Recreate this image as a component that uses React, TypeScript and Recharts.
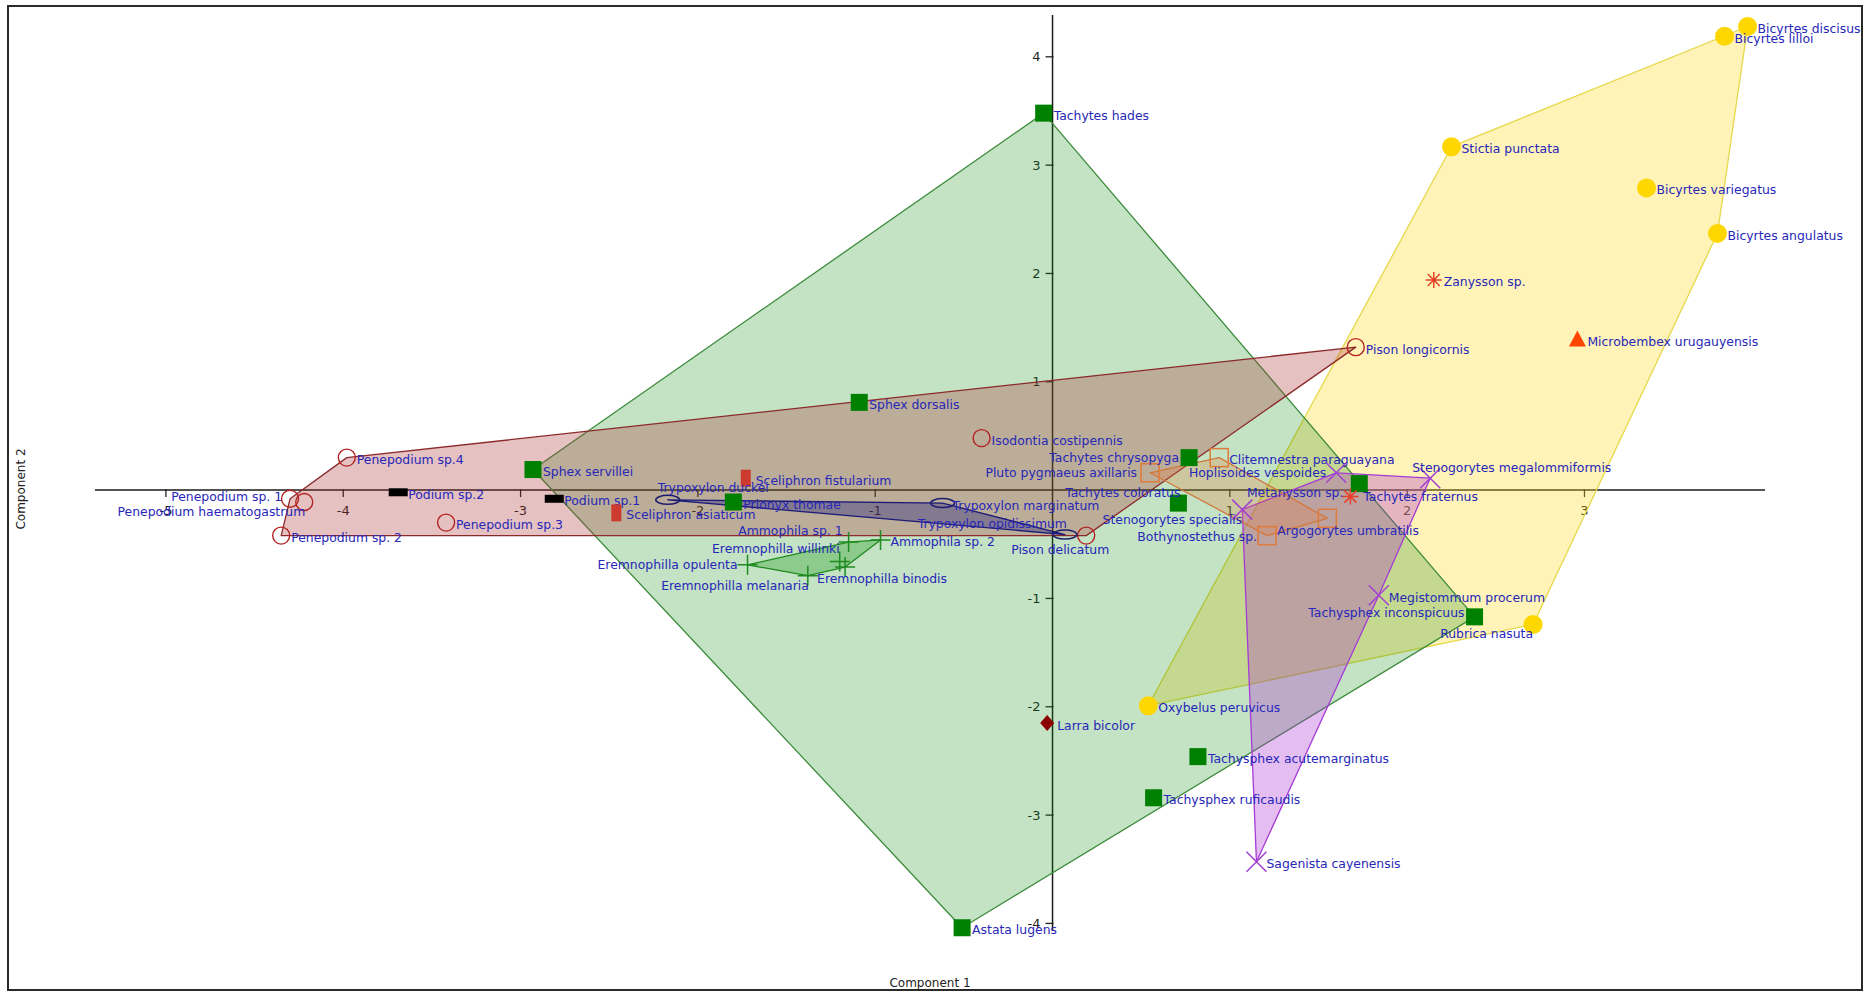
import { ScatterChart, Scatter, XAxis, YAxis } from "recharts"

type Pt = { name: string; x: number; y: number }

// PCA scores (Component 1, Component 2), one list per marker group
const ringTaxa: Pt[] = [
  { name: "Penepodium sp.4", x: -3.98, y: 0.3 },
  { name: "Penepodium sp. 1", x: -4.3, y: -0.08 },
  { name: "Penepodium haematogastrum", x: -4.22, y: -0.11 },
  { name: "Penepodium sp. 2", x: -4.35, y: -0.42 },
  { name: "Penepodium sp.3", x: -3.42, y: -0.3 },
  { name: "Isodontia costipennis", x: -0.4, y: 0.48 },
  { name: "Pison longicornis", x: 1.71, y: 1.32 },
  { name: "Pison delicatum", x: 0.19, y: -0.42 },
]

const squareTaxa: Pt[] = [
  { name: "Tachytes hades", x: -0.05, y: 3.48 },
  { name: "Sphex dorsalis", x: -1.09, y: 0.81 },
  { name: "Sphex servillei", x: -2.93, y: 0.19 },
  { name: "Prionyx thomae", x: -1.8, y: -0.11 },
  { name: "Tachytes chrysopyga", x: 0.77, y: 0.3 },
  { name: "Tachytes coloratus", x: 0.71, y: -0.12 },
  { name: "Tachytes fraternus", x: 1.73, y: 0.06 },
  { name: "Tachysphex inconspicuus", x: 2.38, y: -1.17 },
  { name: "Tachysphex acutemarginatus", x: 0.82, y: -2.46 },
  { name: "Tachysphex ruficaudis", x: 0.57, y: -2.84 },
  { name: "Astata lugens", x: -0.51, y: -4.04 },
]

const dotTaxa: Pt[] = [
  { name: "Bicyrtes discisus", x: 3.92, y: 4.28 },
  { name: "Bicyrtes lilloi", x: 3.79, y: 4.19 },
  { name: "Stictia punctata", x: 2.25, y: 3.17 },
  { name: "Bicyrtes variegatus", x: 3.35, y: 2.79 },
  { name: "Bicyrtes angulatus", x: 3.75, y: 2.37 },
  { name: "Rubrica nasuta", x: 2.71, y: -1.24 },
  { name: "Oxybelus peruvicus", x: 0.54, y: -1.99 },
]

const starTaxa: Pt[] = [
  { name: "Zanysson sp.", x: 2.15, y: 1.94 },
  { name: "Metanysson sp.", x: 1.68, y: -0.06 },
]

const triangleTaxa: Pt[] = [{ name: "Microbembex urugauyensis", x: 2.96, y: 1.39 }]

const diamondTaxa: Pt[] = [{ name: "Larra bicolor", x: -0.03, y: -2.15 }]

const barTaxa: Pt[] = [
  { name: "Podium sp.2", x: -3.69, y: -0.02 },
  { name: "Podium sp.1", x: -2.81, y: -0.08 },
]

const postTaxa: Pt[] = [
  { name: "Sceliphron fistularium", x: -1.73, y: 0.11 },
  { name: "Sceliphron asiaticum", x: -2.46, y: -0.21 },
]

const ellipseTaxa: Pt[] = [
  { name: "Trypoxylon duckei", x: -2.17, y: -0.09 },
  { name: "Trypoxylon marginatum", x: -0.62, y: -0.12 },
  { name: "Trypoxylon opidissimum", x: 0.07, y: -0.41 },
]

const plusTaxa: Pt[] = [
  { name: "Ammophila sp. 1", x: -1.15, y: -0.48 },
  { name: "Ammophila sp. 2", x: -0.97, y: -0.46 },
  { name: "Eremnophilla willinki", x: -1.2, y: -0.66 },
  { name: "Eremnophilla binodis", x: -1.17, y: -0.71 },
  { name: "Eremnophilla opulenta", x: -1.72, y: -0.69 },
  { name: "Eremnophilla melanaria", x: -1.38, y: -0.79 },
]

const crossTaxa: Pt[] = [
  { name: "Stenogorytes specialis", x: 1.07, y: -0.18 },
  { name: "Hoplisoides vespoides", x: 1.6, y: 0.16 },
  { name: "Stenogorytes megalommiformis", x: 2.13, y: 0.11 },
  { name: "Megistommum procerum", x: 1.84, y: -0.97 },
  { name: "Sagenista cayenensis", x: 1.15, y: -3.43 },
]

const boxTaxa: Pt[] = [
  { name: "Pluto pygmaeus axillaris", x: 0.55, y: 0.16 },
  { name: "Clitemnestra paraguayana", x: 0.94, y: 0.3 },
  { name: "Argogorytes umbratilis", x: 1.55, y: -0.26 },
  { name: "Bothynostethus sp.", x: 1.21, y: -0.42 },
]

const xTicks = [-5, -4, -3, -2, -1, 1, 2, 3]
const yTicks = [-4, -3, -2, -1, 1, 2, 3, 4]
const xRange = [-5.4, 4.018]
const yRange = [-4.07, 4.386]

// label placement tweaks [dx, dy, anchor]; anything not listed sits to the right
const labelSpot: Record<string, [number, number, "start" | "end"]> = {
  "Penepodium sp. 1": [-8, -2, "end"],
  "Penepodium haematogastrum": [1, 9, "end"],
  "Tachytes chrysopyga": [-10, 0, "end"],
  "Tachytes coloratus": [2, -11, "end"],
  "Tachytes fraternus": [4, 13, "start"],
  "Tachysphex inconspicuus": [-10, -4, "end"],
  "Rubrica nasuta": [0, 9, "end"],
  "Metanysson sp.": [-7, -4, "end"],
  "Hoplisoides vespoides": [-10, 0, "end"],
  "Stenogorytes specialis": [0, 10, "end"],
  "Stenogorytes megalommiformis": [-18, -11, "start"],
  "Bothynostethus sp.": [-10, 1, "end"],
  "Argogorytes umbratilis": [-50, 12, "start"],
  "Pluto pygmaeus axillaris": [-13, 0, "end"],
  "Trypoxylon duckei": [-10, -12, "start"],
  "Trypoxylon opidissimum": [2, -11, "end"],
  "Ammophila sp. 1": [-6, -12, "end"],
  "Eremnophilla willinki": [0, -13, "end"],
  "Eremnophilla binodis": [-28, 11, "start"],
  "Eremnophilla opulenta": [-10, 0, "end"],
  "Eremnophilla melanaria": [1, 10, "end"],
  "Pison delicatum": [-75, 14, "start"],
}

const FONT = "'DejaVu Sans', Tahoma, sans-serif"

// Andrew's monotone chain
function convexHull(pts: Pt[]): Pt[] {
  const s = [...pts].sort((a, b) => a.x - b.x || a.y - b.y)
  const cross = (o: Pt, a: Pt, b: Pt) => (a.x - o.x) * (b.y - o.y) - (a.y - o.y) * (b.x - o.x)
  const lower: Pt[] = []
  for (const p of s) {
    while (lower.length >= 2 && cross(lower[lower.length - 2], lower[lower.length - 1], p) <= 0) lower.pop()
    lower.push(p)
  }
  const upper: Pt[] = []
  for (const p of s.slice().reverse()) {
    while (upper.length >= 2 && cross(upper[upper.length - 2], upper[upper.length - 1], p) <= 0) upper.pop()
    upper.push(p)
  }
  lower.pop()
  upper.pop()
  return lower.concat(upper)
}

const pathLine = (stroke: string, fill: string, width: number, closed: boolean) => (p: any) => {
  const pts = (p.points || []) as { x: number; y: number }[]
  if (pts.length < 2) return <g />
  const d = pts.map((q, i) => `${i ? "L" : "M"}${q.x},${q.y}`).join(" ") + (closed ? " Z" : "")
  return <path d={d} fill={fill} stroke={stroke} strokeWidth={width} strokeLinejoin="round" />
}

const noDot = () => <g />

type Kind =
  | "ring" | "square" | "dot" | "star" | "triangle" | "diamond"
  | "bar" | "post" | "ellipse" | "plus" | "cross" | "box"

function Mark({ kind, cx, cy }: { kind: Kind; cx: number; cy: number }) {
  switch (kind) {
    case "ring":
      return <circle cx={cx} cy={cy} r={8.5} fill="none" stroke="#b22222" strokeWidth={1.4} />
    case "square":
      return <rect x={cx - 8.5} y={cy - 8.5} width={17} height={17} fill="#008000" />
    case "dot":
      return <circle cx={cx} cy={cy} r={9.5} fill="#ffd700" />
    case "star":
      return (
        <path
          d={`M${cx - 8},${cy} H${cx + 8} M${cx},${cy - 8} V${cy + 8} M${cx - 6},${cy - 6} L${cx + 6},${cy + 6} M${cx - 6},${cy + 6} L${cx + 6},${cy - 6}`}
          stroke="#e8402a"
          strokeWidth={1.5}
        />
      )
    case "triangle":
      return <polygon points={`${cx},${cy - 9} ${cx + 8.5},${cy + 7} ${cx - 8.5},${cy + 7}`} fill="#ff4500" />
    case "diamond":
      return <polygon points={`${cx},${cy - 8} ${cx + 7},${cy} ${cx},${cy + 8} ${cx - 7},${cy}`} fill="#8b0000" />
    case "bar":
      return <rect x={cx - 9.5} y={cy - 4} width={19} height={8} fill="#000" />
    case "post":
      return <rect x={cx - 5} y={cy - 8.5} width={10} height={17} fill="#cd3b2e" />
    case "ellipse":
      return <ellipse cx={cx} cy={cy} rx={12} ry={4.5} fill="none" stroke="#1c1c70" strokeWidth={1.5} />
    case "plus":
      return <path d={`M${cx - 10},${cy} H${cx + 10} M${cx},${cy - 10} V${cy + 10}`} stroke="#1f8a1f" strokeWidth={1.5} />
    case "cross":
      return (
        <path
          d={`M${cx - 10},${cy - 10} L${cx + 10},${cy + 10} M${cx - 10},${cy + 10} L${cx + 10},${cy - 10}`}
          stroke="#a040d0"
          strokeWidth={1.5}
        />
      )
    case "box":
      return <rect x={cx - 9} y={cy - 9} width={18} height={18} fill="none" stroke="#e07a3a" strokeWidth={1.5} />
  }
  return null
}

const taxonShape = (kind: Kind) => (p: any) => {
  const name: string = p.payload.name
  const [dx, dy, anchor] = labelSpot[name] || [10, 2, "start"]
  return (
    <g>
      <Mark kind={kind} cx={p.cx} cy={p.cy} />
      <text
        x={p.cx + dx}
        y={p.cy + dy}
        textAnchor={anchor}
        dominantBaseline="central"
        fontFamily={FONT}
        fontSize={12.4}
        fill="#2727b8"
      >
        {name}
      </text>
    </g>
  )
}

const xTickShape = (p: any) => (
  <g>
    <line x1={p.cx} x2={p.cx} y1={p.cy - 1} y2={p.cy + 7} stroke="#222" strokeWidth={1.3} />
    <text x={p.cx} y={p.cy + 20} textAnchor="middle" dominantBaseline="central" fontFamily={FONT} fontSize={13} fill="#1e1e1e">
      {p.payload.x}
    </text>
  </g>
)

const yTickShape = (p: any) => (
  <g>
    <line x1={p.cx - 7} x2={p.cx + 1} y1={p.cy} y2={p.cy} stroke="#222" strokeWidth={1.3} />
    <text x={p.cx - 12} y={p.cy} textAnchor="end" dominantBaseline="central" fontFamily={FONT} fontSize={13} fill="#1e1e1e">
      {p.payload.y}
    </text>
  </g>
)

const hulls: { pts: Pt[]; stroke: string; fill: string }[] = [
  { pts: dotTaxa, stroke: "#e6d84a", fill: "rgba(255,220,40,0.33)" },
  { pts: squareTaxa, stroke: "#3d8b3d", fill: "rgba(20,140,20,0.25)" },
  { pts: ringTaxa, stroke: "#8b2a2a", fill: "rgba(170,50,50,0.3)" },
  { pts: crossTaxa, stroke: "#a63ad6", fill: "rgba(170,40,210,0.3)" },
  { pts: boxTaxa, stroke: "#d2783c", fill: "rgba(230,120,50,0.25)" },
  { pts: ellipseTaxa, stroke: "#1c1c78", fill: "rgba(30,30,130,0.35)" },
  { pts: plusTaxa, stroke: "#1f8a1f", fill: "rgba(40,160,40,0.35)" },
]

const groups: { pts: Pt[]; kind: Kind }[] = [
  { pts: ringTaxa, kind: "ring" },
  { pts: barTaxa, kind: "bar" },
  { pts: postTaxa, kind: "post" },
  { pts: ellipseTaxa, kind: "ellipse" },
  { pts: plusTaxa, kind: "plus" },
  { pts: boxTaxa, kind: "box" },
  { pts: crossTaxa, kind: "cross" },
  { pts: squareTaxa, kind: "square" },
  { pts: dotTaxa, kind: "dot" },
  { pts: starTaxa, kind: "star" },
  { pts: triangleTaxa, kind: "triangle" },
  { pts: diamondTaxa, kind: "diamond" },
]

export default function App() {
  return (
    <div style={{ position: "absolute", left: 0, top: 0, width: 1870, height: 995, background: "#fff" }}>
      <div style={{ position: "absolute", left: 0, top: 0 }}>
        <ScatterChart width={1870} height={995} margin={{ top: 15, right: 105, bottom: 64, left: 95 }}>
          <XAxis type="number" dataKey="x" domain={xRange} hide />
          <YAxis type="number" dataKey="y" domain={yRange} hide />
          {/* axes through the origin */}
          <Scatter
            data={[{ x: xRange[0], y: 0 }, { x: xRange[1], y: 0 }]}
            shape={noDot}
            line={pathLine("#1a1a1a", "none", 1.5, false)}
            isAnimationActive={false}
          />
          <Scatter
            data={[{ x: 0, y: yRange[0] }, { x: 0, y: yRange[1] }]}
            shape={noDot}
            line={pathLine("#1a1a1a", "none", 1.5, false)}
            isAnimationActive={false}
          />
          <Scatter data={xTicks.map((v) => ({ x: v, y: 0 }))} shape={xTickShape} isAnimationActive={false} />
          <Scatter data={yTicks.map((v) => ({ x: 0, y: v }))} shape={yTickShape} isAnimationActive={false} />
          {hulls.map((h, i) => (
            <Scatter
              key={"hull" + i}
              data={convexHull(h.pts)}
              shape={noDot}
              line={pathLine(h.stroke, h.fill, 1.3, true)}
              isAnimationActive={false}
            />
          ))}
          {groups.map((g, i) => (
            <Scatter key={"grp" + i} data={g.pts} shape={taxonShape(g.kind)} isAnimationActive={false} />
          ))}
        </ScatterChart>
      </div>
      <div
        style={{
          position: "absolute",
          left: 7,
          top: 5,
          width: 1856,
          height: 986,
          border: "2px solid #2a2a2a",
          boxSizing: "border-box",
          pointerEvents: "none",
        }}
      />
      <div
        style={{
          position: "absolute",
          left: 930,
          top: 983,
          transform: "translate(-50%, -50%)",
          fontFamily: FONT,
          fontSize: 12,
          color: "#222",
          whiteSpace: "nowrap",
        }}
      >
        Component 1
      </div>
      <div
        style={{
          position: "absolute",
          left: 21,
          top: 489,
          transform: "translate(-50%, -50%) rotate(-90deg)",
          fontFamily: FONT,
          fontSize: 12,
          color: "#222",
          whiteSpace: "nowrap",
        }}
      >
        Component 2
      </div>
    </div>
  )
}
